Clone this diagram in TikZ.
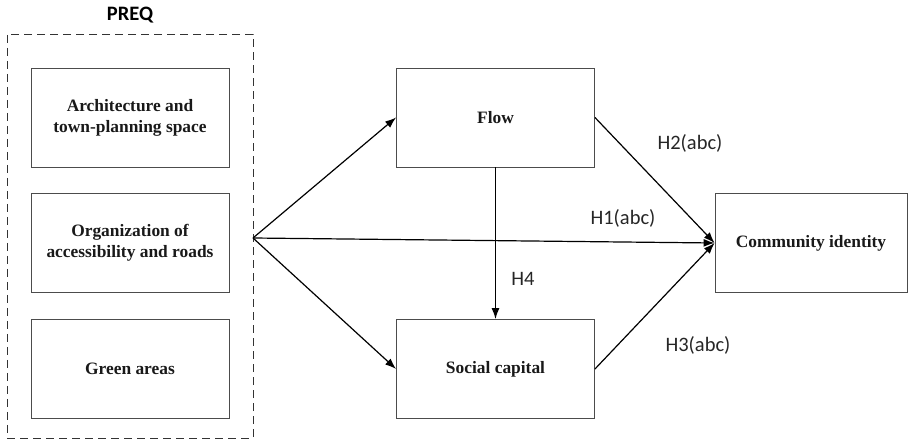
\documentclass[tikz,border=0pt]{standalone}
\usepackage{fontspec}
\setmainfont{Liberation Serif}
\newfontfamily\labelfont{Carlito}
\usetikzlibrary{arrows.meta,positioning}

\begin{document}
\begin{tikzpicture}[
  x=1pt,y=-1pt,
  box/.style={draw=black!70, line width=0.9pt, align=center, minimum width=198pt, minimum height=99pt, inner sep=0pt, font=\fontsize{17.4}{21}\selectfont\bfseries, text=black!90},
  group/.style={draw=black!80, line width=0.9pt, dash pattern=on 8pt off 5pt},
  hyp/.style={font=\labelfont\fontsize{20.5}{24}\selectfont, text=black!85},
  arr/.style={-{Latex[length=11pt,width=8pt]}, line width=1.2pt}
]
\useasboundingbox (0,0) rectangle (910,443);
% exogenous block
\node[group, minimum width=246pt, minimum height=404pt, inner sep=0pt] (preq) at (130,236) {};
\node[font=\labelfont\bfseries\fontsize{20.5}{24}\selectfont] (preqlabel) at (130,15) {PREQ};
\node[box] (arch) at (130,117.5) {Architecture and\\town-planning space};
\node[box] (roads) at (130,243) {Organization of\\accessibility and roads};
\node[box] (green) at (130,369) {Green areas};
% mediators and outcome
\node[box] (flow) at (495.5,117.5) {Flow};
\node[box] (social) at (495.5,369) {Social capital};
\node[box, minimum width=192pt] (identity) at (811,243) {Community identity};
\coordinate (src) at (253,238);
% paths
\draw[arr] (src) -- (flow.west);
\draw[arr] (src) -- (social.west);
\draw[arr] (src) -- (identity.west);
\draw[arr] (flow.south) -- (social.north);
\draw[arr] (flow.east) -- (identity.west);
\draw[arr] (social.east) -- (identity.west);
% hypotheses
\node[hyp] (h2) at (690,143) {H2(abc)};
\node[hyp] (h1) at (623,218) {H1(abc)};
\node[hyp] (h4) at (523,279) {H4};
\node[hyp] (h3) at (698,345) {H3(abc)};
\end{tikzpicture}
\end{document}
